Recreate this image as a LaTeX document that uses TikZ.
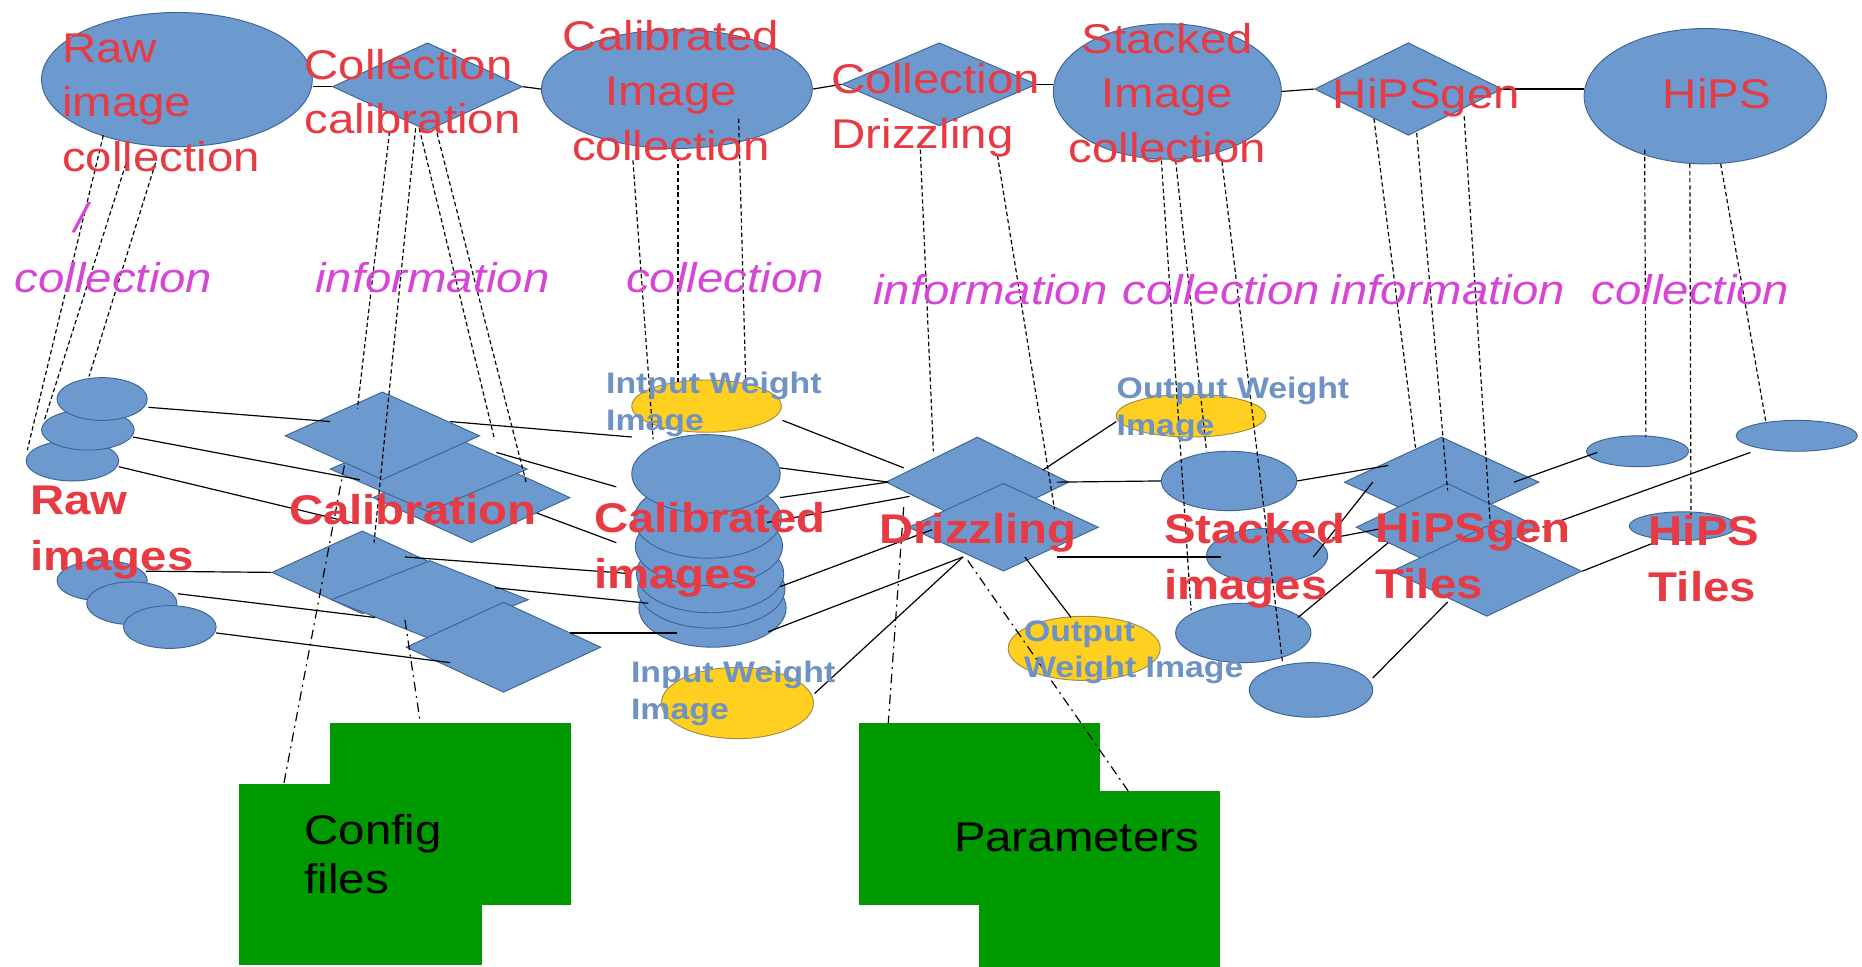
\documentclass[tikz,border=0pt]{standalone}
\usepackage{fontspec}
\setmainfont{Liberation Sans}[FakeStretch=1.14]
\usetikzlibrary{shapes.geometric}
\definecolor{bfill}{RGB}{108,153,206}
\definecolor{bline}{RGB}{62,100,150}
\definecolor{yfill}{RGB}{255,208,32}
\definecolor{yline}{RGB}{160,140,70}
\definecolor{gfill}{RGB}{0,153,0}
\definecolor{lred}{RGB}{232,58,66}
\definecolor{lmag}{RGB}{214,70,214}
\definecolor{lsteel}{RGB}{110,146,196}
\newcommand\topfont{\fontsize{17.5pt}{23pt}\selectfont}
\newcommand\lowfont{\fontsize{17.5pt}{23.5pt}\selectfont\bfseries}
\newcommand\smallfont{\fontsize{12.5pt}{15.5pt}\selectfont\bfseries}
\newcommand\magfont{\fontsize{17.5pt}{21pt}\selectfont\itshape}
\newcommand\blkfont{\fontsize{17.5pt}{21pt}\selectfont}
\tikzset{
 sz/.style 2 args={minimum width=#1pt, minimum height=#2pt},
 bell/.style={ellipse, draw=bline, fill=bfill, line width=0.4pt, inner sep=0pt},
 bdia/.style={diamond, draw=bline, fill=bfill, line width=0.4pt, inner sep=0pt},
 yell/.style={ellipse, draw=yline, fill=yfill, line width=0.4pt, inner sep=0pt},
 gbox/.style={rectangle, fill=gfill, draw=none, inner sep=0pt},
 link/.style={draw=black, line width=0.5pt},
 dlink/.style={link, dash pattern=on 1.8pt off 1.2pt},
 ddlink/.style={link, dash pattern=on 4pt off 2pt on 0.8pt off 2pt},
 toptext/.style={text=lred, font=\topfont, inner sep=0pt},
 lowtext/.style={text=lred, font=\lowfont, inner sep=0pt, align=left, anchor=north west},
 magtext/.style={text=lmag, font=\magfont, inner sep=0pt, anchor=base west},
 wtext/.style={text=lsteel, font=\smallfont, inner sep=0pt, align=left, anchor=north west},
 blktext/.style={text=black, font=\blkfont, inner sep=0pt}
}
\begin{document}
\begin{tikzpicture}[x=0.5pt,y=-0.5pt]
\useasboundingbox (0,0) rectangle (1568,814);
\fill[white] (0,0) rectangle (1568,814);
% green boxes
\node[gbox, sz={101.5}{76.5}] (cf1) at (379.5,685.5) {};
\node[gbox, sz={102.5}{76.5}] (cf2) at (303.5,736.5) {};
\node[gbox, sz={101.5}{76.5}] (pm1) at (824.5,685.5) {};
\node[gbox, sz={101.5}{74}] (pm2) at (925.5,740) {};
% top row
\node[bell, sz={114}{56.5}] (rawc) at (149,67) {};
\node[bdia, sz={80}{37}] (colcal) at (360,73) {};
\node[bell, sz={114}{50}] (calc) at (570,75) {};
\node[bdia, sz={82}{35}] (coldr) at (791,71) {};
\node[bell, sz={96}{57}] (stc) at (983,77) {};
\node[bdia, sz={79}{39}] (hgen) at (1186,75) {};
\node[bell, sz={102}{57}] (hips) at (1436,81) {};
% raw images
\node[bell, sz={39}{17}] (e3) at (61,388) {};
\node[bell, sz={39}{17}] (e2) at (74,362) {};
\node[bell, sz={38}{18}] (e1) at (86,336) {};
\node[bell, sz={38}{17}] (f1) at (86,489) {};
\node[bell, sz={38}{18}] (f2) at (111,508) {};
\node[bell, sz={39}{18}] (f3) at (143,528) {};
% calibration diamonds
\node[bdia, sz={83}{38}] (d3) at (397,419) {};
\node[bdia, sz={83}{36}] (d2) at (361,395) {};
\node[bdia, sz={82}{37}] (d1) at (322,367) {};
\node[bdia, sz={76}{35}] (g1) at (305,482) {};
\node[bdia, sz={83}{33}] (g2) at (362,505) {};
\node[bdia, sz={82}{38}] (g3) at (424,545) {};
% calibrated images stack
\node[bell, sz={62}{33}] (cs6) at (600,512) {};
\node[bell, sz={62}{33}] (cs5) at (599,496) {};
\node[bell, sz={62}{33}] (cs4) at (598,483) {};
\node[bell, sz={62}{33}] (cs3) at (597,460) {};
\node[bell, sz={62}{33}] (cs2) at (596,437) {};
\node[bell, sz={62.5}{33}] (cs1) at (594.5,399) {};
\node[yell, sz={63}{22}] (iw1) at (595,342) {};
\node[yell, sz={64}{30}] (iw2) at (621,592) {};
% drizzling
\node[bdia, sz={77}{38}] (dz1) at (823,406) {};
\node[bdia, sz={80}{37}] (dz2) at (845,444) {};
\node[yell, sz={63}{18}] (ow1) at (1003,350) {};
\node[yell, sz={64}{27}] (ow2) at (913,546) {};
% stacked images
\node[bell, sz={57}{25}] (s1) at (1035,405) {};
\node[bell, sz={51}{23}] (s2) at (1067,468) {};
\node[bell, sz={57}{25}] (s3) at (1047,533) {};
\node[bell, sz={52}{23}] (s4) at (1104,581) {};
% hipsgen tiles
\node[bdia, sz={82}{38}] (c1) at (1214,406) {};
\node[bdia, sz={77}{37}] (c2) at (1219,444) {};
\node[bdia, sz={80}{38}] (c3) at (1252,481) {};
% hips tiles
\node[bell, sz={43}{13}] (h1) at (1379,380) {};
\node[bell, sz={51}{13}] (h2) at (1513,367) {};
\node[bell, sz={45}{12}] (h3) at (1417,443) {};
% top connectors
\draw[link] (colcal.west -| rawc.east) -- (colcal.west);
\draw[link] (colcal.east) -- (calc.west);
\draw[link] (calc.east) -- (coldr.west);
\draw[link] (coldr.east) -- (coldr.east -| stc.west);
\draw[link] (stc.east) -- (hgen.west);
\draw[link] (hgen.east) -- (hgen.east -| hips.west);
% dashed links
\draw[dlink] ([shift={(-62,47)}]rawc.center) -- ([shift={(-38,-9)}]e3.center);
\draw[dlink] ([shift={(-43,71)}]rawc.center) -- ([shift={(-37,-7)}]e2.center);
\draw[dlink] ([shift={(-18,70)}]rawc.center) -- ([shift={(-11,-19)}]e1.center);
\draw[dlink] ([shift={(-32,38)}]colcal.center) -- ([shift={(-21,-23)}]d1.center);
\draw[dlink] ([shift={(-10,35)}]colcal.center) -- ([shift={(10,-25)}]g1.center);
\draw[dlink] ([shift={(-7,35)}]colcal.center) -- ([shift={(55,-27)}]d2.center);
\draw[dlink] ([shift={(8,39)}]colcal.center) -- ([shift={(46,-13)}]d3.center);
\draw[dlink] ([shift={(-37,60)}]calc.center) -- ([shift={(-44.5,-29)}]cs1.center);
\draw[dlink] ([shift={(1,57)}]calc.center) -- ([shift={(-24,-20)}]iw1.center);
\draw[dlink] ([shift={(52,25)}]calc.center) -- ([shift={(33,-20)}]iw1.center);
\draw[dlink] ([shift={(-16,55)}]coldr.center) -- ([shift={(-37,-26)}]dz1.center);
\draw[dlink] ([shift={(49,60)}]coldr.center) -- ([shift={(43,-15)}]dz2.center);
\draw[dlink] ([shift={(-5,58)}]stc.center) -- ([shift={(-44,-19)}]s3.center);
\draw[dlink] ([shift={(7,58)}]stc.center) -- ([shift={(-19,-25)}]s1.center);
\draw[dlink] ([shift={(46,59)}]stc.center) -- ([shift={(-24,-23)}]s4.center);
\draw[dlink] ([shift={(-29,25)}]hgen.center) -- ([shift={(-22,-29)}]c1.center);
\draw[dlink] ([shift={(7,37)}]hgen.center) -- ([shift={(0,-31)}]c2.center);
\draw[dlink] ([shift={(47,23)}]hgen.center) -- ([shift={(3,-39)}]c3.center);
\draw[dlink] ([shift={(-51,45)}]hips.center) -- ([shift={(7,-12)}]h1.center);
\draw[dlink] ([shift={(-13,57)}]hips.center) -- ([shift={(7,-9)}]h3.center);
\draw[dlink] ([shift={(13,57)}]hips.center) -- ([shift={(-26,-12)}]h2.center);
% dash-dot links to green boxes
\draw[ddlink] ([shift={(-71,-3)}]d2.center) -- ([shift={(-64.5,-76.5)}]cf2.center);
\draw[ddlink] ([shift={(-21,17)}]g2.center) -- ([shift={(-25.5,-76.5)}]cf1.center);
\draw[ddlink] ([shift={(-62,21)}]dz1.center) -- ([shift={(-76.5,-76.5)}]pm1.center);
\draw[ddlink] ([shift={(-30,28)}]dz2.center) -- ([shift={(24.5,-74)}]pm2.center);
% solid links
\draw[link] ([shift={(39,7)}]e1.center) -- ([shift={(-44,-12)}]d1.center);
\draw[link] ([shift={(38,6)}]e2.center) -- ([shift={(-58,9)}]d2.center);
\draw[link] ([shift={(39,5)}]e3.center) -- ([shift={(-97,22)}]d3.center);
\draw[link] ([shift={(37,-8)}]f1.center) -- (g1.west);
\draw[link] ([shift={(39,-8)}]f2.center) -- ([shift={(-46,15)}]g2.center);
\draw[link] ([shift={(39,5)}]f3.center) -- ([shift={(-45,13)}]g3.center);
\draw[link] ([shift={(36,-13)}]g1.center) -- ([shift={(-68,0)}]cs4.center);
\draw[link] ([shift={(55,-10)}]g2.center) -- ([shift={(-53,12)}]cs5.center);
\draw[link] ([shift={(56,-12)}]g3.center) -- ([shift={(-30,21)}]cs6.center);
\draw[link] ([shift={(57,-12)}]d1.center) -- ([shift={(-62.5,-31)}]cs1.center);
\draw[link] ([shift={(57,-14)}]d2.center) -- ([shift={(-77,-27)}]cs2.center);
\draw[link] ([shift={(55,13)}]d3.center) -- ([shift={(-78,-3)}]cs3.center);
\draw[link] ([shift={(64,12)}]iw1.center) -- ([shift={(-62,-12)}]dz1.center);
\draw[link] ([shift={(62.5,-5)}]cs1.center) -- ([shift={(-75,0)}]dz1.center);
\draw[link] ([shift={(61,-18)}]cs2.center) -- ([shift={(-75,0)}]dz1.center);
\draw[link] ([shift={(49,-20)}]cs3.center) -- ([shift={(-57,12)}]dz1.center);
\draw[link] ([shift={(59,11)}]cs4.center) -- ([shift={(-60,2)}]dz2.center);
\draw[link] ([shift={(47,20)}]cs6.center) -- ([shift={(-34,25)}]dz2.center);
\draw[link] ([shift={(65,-8)}]iw2.center) -- ([shift={(-34,25)}]dz2.center);
\draw[link] ([shift={(55,-10)}]dz1.center) -- ([shift={(-63,5)}]ow1.center);
\draw[link] ([shift={(67,0)}]dz1.center) -- (s1.west);
\draw[link] ([shift={(45,25)}]dz2.center) -- ([shift={(-39,1)}]s2.center);
\draw[link] ([shift={(18,25)}]dz2.center) -- ([shift={(-11,-26)}]ow2.center);
\draw[link] (s1.east) -- ([shift={(-45,-14)}]c1.center);
\draw[link] ([shift={(39,1)}]s2.center) -- ([shift={(-58,0)}]c1.center);
\draw[link] ([shift={(55,-15)}]s2.center) -- ([shift={(-50,0)}]c2.center);
\draw[link] ([shift={(46,-13)}]s3.center) -- ([shift={(-50,13)}]c2.center);
\draw[link] ([shift={(52,-10)}]s4.center) -- ([shift={(-33,26)}]c3.center);
\draw[link] ([shift={(61,0)}]c1.center) -- ([shift={(-34,1)}]h1.center);
\draw[link] ([shift={(80,0)}]c2.center) -- ([shift={(-39,14)}]h2.center);
\draw[link] (c3.east) -- ([shift={(-24,14)}]h3.center);
% top labels
\node[toptext, align=left, anchor=north west] (rawlab) at (52,28) {Raw\\image\\collection};
\node[toptext, align=left, anchor=north west] (colcallab) at (256,41) {Collection\\calibration};
\node[toptext, align=center, anchor=north] (calclab) at (565,17) {Calibrated\\Image\\collection};
\node[toptext, align=left, anchor=north west] (coldrlab) at (700,53) {Collection\\Drizzling};
\node[toptext, align=center, anchor=north] (stclab) at (983,19) {Stacked\\Image\\collection};
\node[toptext, anchor=base west] (hgenlab) at (1122,91) {HiPSgen};
\node[toptext, anchor=base west] (hipslab) at (1400,91) {HiPS};
% magenta labels
\node[magtext] (m0) at (62,196) {/};
\node[magtext] (m1) at (12,246) {collection};
\node[magtext] (m2) at (265,246) {information};
\node[magtext] (m3) at (527,246) {collection};
\node[magtext] (m4) at (735,256) {information};
\node[magtext] (m5) at (945,256) {collection};
\node[magtext] (m6) at (1120,256) {information};
\node[magtext] (m7) at (1340,256) {collection};
% lower labels
\node[lowtext] (rawimglab) at (25,409) {Raw\\images};
\node[lowtext, anchor=base west] (caliblab) at (243,442) {Calibration};
\node[lowtext] (calimglab) at (500,423) {Calibrated\\images};
\node[lowtext, anchor=base west] (drzlab) at (740,458) {Drizzling};
\node[lowtext] (stimglab) at (980,432) {Stacked\\images};
\node[lowtext] (hgtlab) at (1158,431) {HiPSgen\\Tiles};
\node[lowtext] (hptlab) at (1388,434) {HiPS\\Tiles};
% weight image labels
\node[wtext] (iw1lab) at (510,313) {Intput Weight\\Image};
\node[wtext] (ow1lab) at (940,317) {Output Weight\\Image};
\node[wtext] (ow2lab) at (862,522) {Output\\Weight Image};
\node[wtext] (iw2lab) at (531,556) {Input Weight\\Image};
% box labels
\node[blktext, align=left, anchor=north west] (cflab) at (256,685) {Config\\files};
\node[blktext, anchor=base west] (pmlab) at (803,717) {Parameters};
\end{tikzpicture}
\end{document}
